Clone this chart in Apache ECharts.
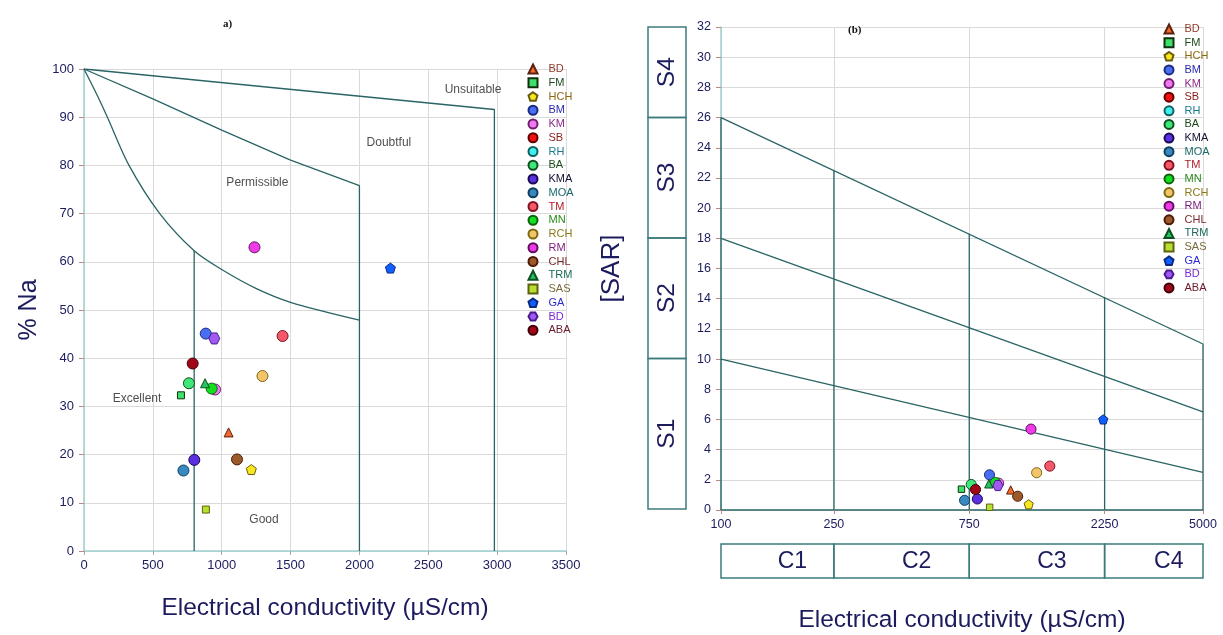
<!DOCTYPE html>
<html>
<head>
<meta charset="utf-8">
<script src="https://cdn.jsdelivr.net/npm/echarts@6/dist/echarts.min.js"></script>
<style>
  html, body { margin: 0; padding: 0; background: #fff; }
  #chart { width: 1223px; height: 635px; }
</style>
</head>
<body>
<div id="chart"></div>
<script>
// samples (same order as the legend); "BD " is the second BD sample
const sampleNames = ['BD', 'FM', 'HCH', 'BM', 'KM', 'SB', 'RH', 'BA', 'KMA', 'MOA', 'TM', 'MN', 'RCH', 'RM', 'CHL', 'TRM', 'SAS', 'GA', 'BD ', 'ABA'];
const ecValues = [1050, 704, 1215, 884, 952, null, null, 762, 801, 722, 1442, 927, 1296, 1238, 1111, 879, 885, 2225, 946, 789];
const naPercent = [24.6, 32.3, 16.9, 45.1, 33.5, null, null, 34.8, 18.9, 16.7, 44.6, 33.7, 36.3, 63.0, 19.0, 34.8, 8.6, 58.7, 44.1, 38.9];
const sarValues = [1.33, 1.38, 0.38, 2.33, 1.78, null, null, 1.69, 0.73, 0.64, 2.91, 1.82, 2.47, 5.36, 0.91, 1.73, 0.18, 6.0, 1.62, 1.36];

const symbolKinds = ['triangle', 'rect', 'pentagon', 'circle', 'circle', 'circle', 'circle', 'circle', 'circle', 'circle',
  'circle', 'circle', 'circle', 'circle', 'circle', 'triangle', 'rect', 'pentagon', 'hexagon', 'circle'];
const fillColors = ['#f26a2a', '#3ee06a', '#f7e81e', '#4a6ef2', '#f27af0', '#f01010', '#40f0f0', '#3ee878', '#5a30e0', '#3a88c0',
  '#f25a6a', '#10e020', '#f5c46a', '#f03ae8', '#9a5a2a', '#28c060', '#b8e030', '#1060ff', '#a05af2', '#a00818'];
const borderColors = ['#5a2010', '#103010', '#6a5a10', '#1a2a80', '#702070', '#600000', '#106060', '#105020', '#180a50', '#104060',
  '#801020', '#106010', '#7a6a10', '#601060', '#501a0a', '#0a5020', '#606010', '#0a2a80', '#4a1a90', '#400008'];
const legendTextColors = ['#8b3a2a', '#1a4a1a', '#8a6a10', '#2a2ab0', '#8a2a8a', '#8a1a1a', '#1a7a8a', '#1a4a1a', '#111133', '#1a6a6a',
  '#b01a2a', '#2a8a1a', '#8a7a1a', '#7a1a7a', '#7a2a2a', '#1a6a5a', '#7a6a3a', '#2a2ad0', '#7a2ad0', '#6a1a2a'];

// Wilcox diagram boundaries (EC, %Na)
const wilcoxUnsuitable = [[0, 100], [2980, 91.6], [2980, 0]];
const wilcoxDoubtful = [[0, 100], [500, 93.8], [1000, 87.3], [1500, 81.1], [2000, 75.8], [2000, 0]];
const wilcoxPermissible = [[0, 100], [100, 94.3], [170, 90], [327, 80], [550, 70], [800, 62.3], [1006, 58.3], [1248, 54.5], [1500, 51.6], [2000, 47.9]];
const wilcoxGoodEdge = [[800, 62.3], [800, 0]];
const regionNames = ['Excellent', 'Good', 'Permissible', 'Doubtful', 'Unsuitable'];
const regionEC = [385, 1307, 1259, 2214, 2825];
const regionNa = [31.7, 6.6, 76.5, 84.7, 95.8];

// USSL diagram (EC, SAR)
const usslS1Line = [[100, 10], [5000, 2.5]];
const usslS2Line = [[100, 18], [5000, 6.5]];
const usslS3Line = [[100, 26], [5000, 11]];
const usslDividerEC = [100, 250, 750, 2250, 5000];
const usslDividerTop = [26, 22.5, 18.3, 14.1, 11];
const ecTicksB = [100, 250, 750, 2250, 5000];
const sClassNames = ['S1', 'S2', 'S3', 'S4'];
const sClassBounds = [0, 10, 18, 26, 32];
const cClassNames = ['C1', 'C2', 'C3', 'C4'];
const cClassBounds = [100, 250, 750, 2250, 5000];

const FONT = '"Liberation Sans", Arial, sans-serif';
const NAVY = '#1b1b5e';
const TEAL = '#2a6464';
const LIGHT_TEAL = '#9fd0d0';
const GRID_GRAY = '#dadada';
const TICK_RED = '#c08484';

const pathSymbols = {
  pentagon: 'path://M0,-1L0.951,-0.309L0.588,0.809L-0.588,0.809L-0.951,-0.309Z',
  hexagon: 'path://M-0.5,-0.866L0.5,-0.866L1,0L0.5,0.866L-0.5,0.866L-1,0Z',
};
const symbolSizes = { circle: 11, rect: 7, triangle: 9, pentagon: 10, hexagon: 11 };
const lg10 = v => Math.log10(v);

const chart = echarts.init(document.getElementById('chart'));

const series = [];

function boundary(data, xIdx, smooth) {
  return {
    type: 'line', xAxisIndex: xIdx, yAxisIndex: xIdx, data, smooth: smooth || false,
    symbol: 'none', silent: true, z: 1,
    lineStyle: { color: TEAL, width: 1.3 },
  };
}

// panel a boundaries
series.push(boundary(wilcoxUnsuitable, 0));
series.push(boundary(wilcoxDoubtful, 0));
series.push(boundary(wilcoxPermissible, 0, 0.3));
series.push(boundary(wilcoxGoodEdge, 0));

// panel b boundaries (EC on a log10 scale)
[usslS1Line, usslS2Line, usslS3Line].forEach(l => {
  series.push(boundary(l.map(p => [lg10(p[0]), p[1]]), 1));
});
usslDividerEC.forEach((ec, i) => {
  series.push(boundary([[lg10(ec), 0], [lg10(ec), usslDividerTop[i]]], 1));
});

// region labels of the Wilcox diagram
series.push({
  type: 'scatter', xAxisIndex: 0, yAxisIndex: 0, symbolSize: 0, silent: true,
  data: regionNames.map((n, i) => ({ name: n, value: [regionEC[i], regionNa[i]] })),
  label: { show: true, position: 'inside', formatter: p => p.name, color: '#222', fontSize: 12, fontFamily: FONT },
});

// sample points in both panels
sampleNames.forEach((name, i) => {
  const kind = symbolKinds[i];
  const symbol = pathSymbols[kind] || kind;
  const size = symbolSizes[kind];
  const style = { color: fillColors[i], borderColor: borderColors[i], borderWidth: 1, opacity: 1 };
  const has = ecValues[i] != null;
  series.push({
    name, type: 'scatter', xAxisIndex: 0, yAxisIndex: 0, symbol, symbolSize: size, z: 3,
    itemStyle: style, data: has ? [[ecValues[i], naPercent[i]]] : [],
  });
  series.push({
    name, type: 'scatter', xAxisIndex: 1, yAxisIndex: 1, symbol, symbolSize: size * 0.92, z: 3,
    itemStyle: style, data: has ? [[lg10(ecValues[i]), sarValues[i]]] : [],
  });
});

// S class boxes left of panel b
series.push({
  type: 'custom', xAxisIndex: 2, yAxisIndex: 2, silent: true,
  data: sClassNames.map((n, i) => [sClassBounds[i], sClassBounds[i + 1]]),
  renderItem(params, api) {
    const a = api.coord([0, api.value(0)]);
    const b = api.coord([1, api.value(1)]);
    return {
      type: 'group',
      children: [
        { type: 'rect', shape: { x: a[0], y: b[1], width: b[0] - a[0], height: a[1] - b[1] },
          style: { fill: 'none', stroke: '#3d7b7b', lineWidth: 1.5 } },
        { type: 'text', x: (a[0] + b[0]) / 2, y: (a[1] + b[1]) / 2, rotation: Math.PI / 2,
          style: { text: sClassNames[params.dataIndex], fill: NAVY, fontSize: 24.5, fontFamily: FONT, align: 'center', verticalAlign: 'middle' } },
      ],
    };
  },
});

// C class boxes under panel b
series.push({
  type: 'custom', xAxisIndex: 3, yAxisIndex: 3, silent: true,
  data: cClassNames.map((n, i) => [lg10(cClassBounds[i]), lg10(cClassBounds[i + 1])]),
  renderItem(params, api) {
    const a = api.coord([api.value(0), 0]);
    const b = api.coord([api.value(1), 1]);
    return {
      type: 'group',
      children: [
        { type: 'rect', shape: { x: a[0], y: b[1], width: b[0] - a[0], height: a[1] - b[1] },
          style: { fill: 'none', stroke: '#3d7b7b', lineWidth: 1.5 } },
        { type: 'text', x: (a[0] + b[0]) / 2 + 15, y: (a[1] + b[1]) / 2 + 1,
          style: { text: cClassNames[params.dataIndex], fill: NAVY, fontSize: 23, fontFamily: FONT, align: 'center', verticalAlign: 'middle' } },
      ],
    };
  },
});

const legendData = sampleNames.map((n, i) => ({ name: n, textStyle: { color: legendTextColors[i] } }));
const legendBase = {
  orient: 'vertical', selectedMode: false, padding: 0, itemWidth: 9, itemHeight: 9,
  textStyle: { fontSize: 11, lineHeight: 12, fontFamily: FONT, padding: [0, 0, 0, 6] }, data: legendData,
};

const option = {
  animation: false,
  backgroundColor: '#fff',
  title: [
    { text: 'a)', left: 218, top: 14, textStyle: { fontFamily: '"Liberation Serif", serif', fontSize: 11, fontWeight: 'bold', color: '#111' } },
    { text: '(b)', left: 843, top: 20, textStyle: { fontFamily: '"Liberation Serif", serif', fontSize: 11, fontWeight: 'bold', color: '#111' } },
  ],
  legend: [
    Object.assign({}, legendBase, { left: 527.5, top: 63, itemGap: 1.75 }),
    Object.assign({}, legendBase, { left: 1163.5, top: 23, itemGap: 1.63 }),
  ],
  grid: [
    { left: 84, top: 69, width: 482, height: 482, outerBoundsMode: 'none' },
    { left: 721, top: 27, width: 482, height: 483, outerBoundsMode: 'none' },
    { left: 648, top: 27, width: 38, height: 482, outerBoundsMode: 'none' },
    { left: 721, top: 544, width: 482, height: 34, outerBoundsMode: 'none' },
  ],
  xAxis: [
    {
      gridIndex: 0, type: 'value', min: 0, max: 3500, interval: 500,
      name: 'Electrical conductivity (µS/cm)', nameLocation: 'middle', nameGap: 45,
      nameTextStyle: { fontSize: 24.5, color: NAVY, fontFamily: FONT },
      axisLine: { lineStyle: { color: LIGHT_TEAL, width: 1.5 } },
      axisTick: { length: 4, lineStyle: { color: '#aaaaaa' } },
      axisLabel: { color: NAVY, fontSize: 13, fontFamily: FONT, margin: 8, formatter: v => String(v) },
      splitLine: { lineStyle: { color: GRID_GRAY } },
    },
    {
      gridIndex: 1, type: 'value', min: lg10(100), max: lg10(5000),
      name: 'Electrical conductivity (µS/cm)', nameLocation: 'middle', nameGap: 98,
      nameTextStyle: { fontSize: 24.5, color: NAVY, fontFamily: FONT },
      axisLine: { lineStyle: { color: TEAL, width: 1.5 } },
      axisTick: { length: 4, lineStyle: { color: TICK_RED }, customValues: ecTicksB.map(lg10) },
      axisLabel: {
        color: NAVY, fontSize: 12.5, fontFamily: FONT, margin: 8,
        customValues: ecTicksB.map(lg10), formatter: v => String(Math.round(Math.pow(10, v))),
      },
      splitLine: { lineStyle: { color: GRID_GRAY } },
    },
    { gridIndex: 2, type: 'value', min: 0, max: 1, show: false },
    { gridIndex: 3, type: 'value', min: lg10(100), max: lg10(5000), show: false },
  ],
  yAxis: [
    {
      gridIndex: 0, type: 'value', min: 0, max: 100, interval: 10,
      name: '% Na', nameLocation: 'middle', nameGap: 42,
      nameTextStyle: { fontSize: 25, color: NAVY, fontFamily: FONT },
      axisLine: { show: true, lineStyle: { color: LIGHT_TEAL, width: 1.5 } },
      axisTick: { show: true, length: 5, lineStyle: { color: TICK_RED } },
      axisLabel: { color: NAVY, fontSize: 13, fontFamily: FONT, margin: 10 },
      splitLine: { lineStyle: { color: GRID_GRAY } },
    },
    {
      gridIndex: 1, type: 'value', min: 0, max: 32, interval: 2,
      name: '[SAR]', nameLocation: 'middle', nameGap: 96,
      nameTextStyle: { fontSize: 26, color: NAVY, fontFamily: FONT },
      axisLine: { show: true, lineStyle: { color: LIGHT_TEAL, width: 1.5 } },
      axisTick: { show: true, length: 5, lineStyle: { color: TICK_RED } },
      axisLabel: { color: NAVY, fontSize: 12.5, fontFamily: FONT, margin: 10 },
      splitLine: { lineStyle: { color: GRID_GRAY } },
    },
    { gridIndex: 2, type: 'value', min: 0, max: 32, show: false },
    { gridIndex: 3, type: 'value', min: 0, max: 1, show: false },
  ],
  series,
};

chart.setOption(option);
</script>
</body>
</html>
